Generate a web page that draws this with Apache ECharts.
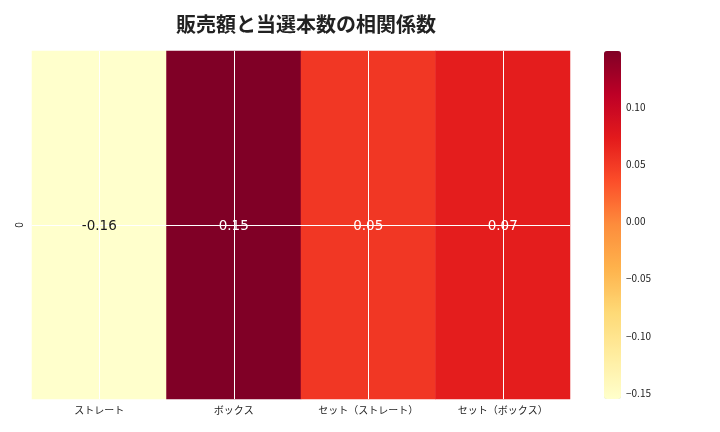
<!DOCTYPE html>
<html><head><meta charset="utf-8">
<script src="https://cdn.jsdelivr.net/npm/echarts@6/dist/echarts.min.js"></script>
<style>html,body{margin:0;padding:0;background:#fff}#c{width:720px;height:432px}</style>
</head><body><div id="c"></div>
<script>
const categories = ['ストレート', 'ボックス', 'セット（ストレート）', 'セット（ボックス）'];
const rowLabels = ['0'];
const values = [-0.1552, 0.1490, 0.052, 0.071];
const colorbarTicks = [-0.15, -0.10, -0.05, 0.00, 0.05, 0.10];
const vMin = -0.1552, vMax = 0.1490;
const palette = ['#ffffcc','#ffeda0','#fed976','#feb24c','#fd8d3c','#fc4e2a','#e31a1c','#bd0026','#800026'];

const font = '"Noto Sans CJK JP","Noto Sans",sans-serif';
const heat = values.map((v, i) => [i, 0, v]);
const fmt = v => (v < 0 ? '\u2212' : '') + Math.abs(v).toFixed(2);

const chart = echarts.init(document.getElementById('c'));
chart.setOption({
  backgroundColor: '#fff',
  animation: false,
  textStyle: { fontFamily: font },
  title: {
    text: '販売額と当選本数の相関係数',
    left: 301, top: 9, textAlign: 'center',
    textStyle: { fontSize: 20, fontWeight: 'bold', color: '#222', fontFamily: font }
  },
  grid: [
    { left: 32, top: 51, width: 538, height: 348, containLabel: false },
    { left: 604, top: 51, width: 17, height: 348, containLabel: false }
  ],
  xAxis: [
    { type: 'category', gridIndex: 0, data: categories, position: 'bottom',
      axisLine: { show: false }, axisTick: { alignWithLabel: true, length: 4, lineStyle: { color: '#333' } },
      axisLabel: { fontSize: 10, color: '#222', margin: 6 }, splitLine: { show: false } },
    { type: 'value', gridIndex: 1, show: false, min: 0, max: 1 }
  ],
  yAxis: [
    { type: 'category', gridIndex: 0, data: rowLabels,
      axisLine: { show: false }, axisTick: { alignWithLabel: true, length: 4, lineStyle: { color: '#333' } },
      axisLabel: { fontSize: 10, color: '#222', rotate: 90, margin: 8 }, splitLine: { show: false } },
    { type: 'value', gridIndex: 1, min: vMin, max: vMax, position: 'right',
      axisLine: { show: false },
      axisTick: { show: true, length: 4, customValues: colorbarTicks, lineStyle: { color: '#333' } },
      axisLabel: { show: true, customValues: colorbarTicks, fontSize: 10, color: '#222', margin: 5, formatter: fmt },
      splitLine: { show: false } }
  ],
  visualMap: {
    type: 'continuous', seriesIndex: 0, min: vMin, max: vMax,
    calculable: false, realtime: false, text: null, showLabel: false,
    orient: 'vertical', left: 599, top: 46, itemWidth: 17, itemHeight: 348, padding: 5,
    inRange: { color: palette }, hoverLink: false
  },
  series: [{
    type: 'heatmap', xAxisIndex: 0, yAxisIndex: 0, data: heat, z: 2,
    label: { show: false },
    itemStyle: { borderWidth: 0 },
    emphasis: { disabled: true },
    markLine: {
      silent: true, symbol: 'none', animation: false,
      label: { show: false },
      lineStyle: { color: '#fff', width: 1, type: 'solid', opacity: 1 },
      emphasis: { disabled: true },
      data: categories.map(c => ({ xAxis: c })).concat(rowLabels.map(r => ({ yAxis: r })))
    }
  }, {
    type: 'scatter', xAxisIndex: 0, yAxisIndex: 0, z: 10, symbolSize: 0, silent: true,
    itemStyle: { opacity: 0 },
    data: heat.map(d => ({ value: d, label: { color: d[2] > -0.05 ? '#ffffff' : '#1a1a1a' } })),
    label: {
      show: true, position: 'inside', fontSize: 13.5, fontFamily: '"DejaVu Sans",sans-serif',
      textBorderWidth: 0, textShadowBlur: 0, opacity: 1, offset: [0, 1],
      formatter: p => p.value[2].toFixed(2)
    },
    emphasis: { disabled: true }
  }]
});
</script>
</body></html>
